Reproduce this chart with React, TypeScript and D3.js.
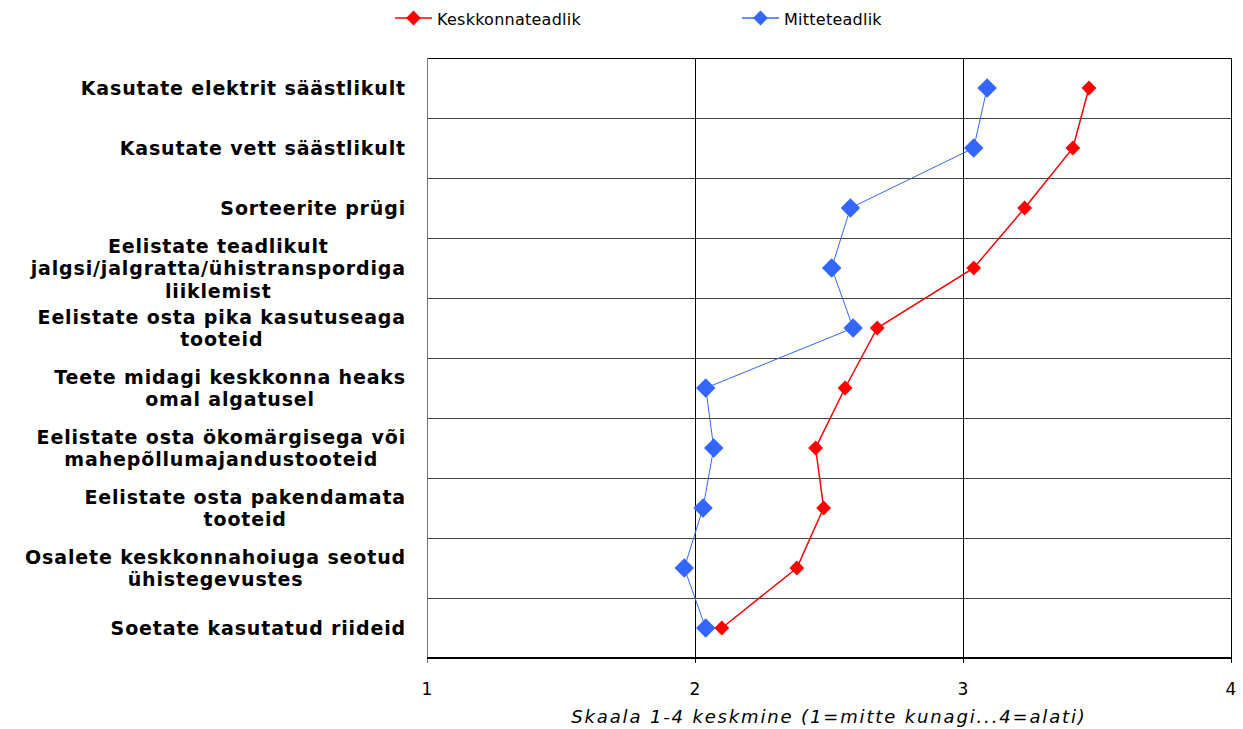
import React, { useEffect, useRef } from "react";
import * as d3 from "d3";

const categories: string[][] = [
  ["Kasutate elektrit säästlikult"],
  ["Kasutate vett säästlikult"],
  ["Sorteerite prügi"],
  ["Eelistate teadlikult", "jalgsi/jalgratta/ühistranspordiga", "liiklemist"],
  ["Eelistate osta pika kasutuseaga", "tooteid"],
  ["Teete midagi keskkonna heaks", "omal algatusel"],
  ["Eelistate osta ökomärgisega või", "mahepõllumajandustooteid"],
  ["Eelistate osta pakendamata", "tooteid"],
  ["Osalete keskkonnahoiuga seotud", "ühistegevustes"],
  ["Soetate kasutatud riideid"],
];
const keskkonnateadlik = [3.47, 3.41, 3.23, 3.04, 2.68, 2.56, 2.45, 2.48, 2.38, 2.1];
const mitteteadlik = [3.09, 3.04, 2.58, 2.51, 2.59, 2.04, 2.07, 2.03, 1.96, 2.04];
const xTicks = [1, 2, 3, 4];
const seriesNames = ["Keskkonnateadlik", "Mitteteadlik"];
const axisTitle = "Skaala 1-4 keskmine (1=mitte kunagi...4=alati)";

const W = 1243, H = 729;
const M = { left: 427, top: 58, right: 1231, bottom: 658 };
const FONT = "'DejaVu Sans', Verdana, sans-serif";

export default function App() {
  const ref = useRef<SVGSVGElement>(null);
  useEffect(() => {
    const svg = d3.select(ref.current);
    svg.selectAll("*").remove();
    const x = d3.scaleLinear().domain([1, 4]).range([M.left, M.right]);
    const y = d3.scaleBand<number>().domain(categories.map((_, i) => i)).range([M.top, M.bottom]);
    const yc = (i: number) => (y(i) as number) + y.bandwidth() / 2;

    const g = svg.append("g");
    for (let i = 0; i <= categories.length; i++) {
      const yy = M.top + i * y.bandwidth();
      g.append("line").attr("x1", M.left).attr("x2", M.right).attr("y1", yy).attr("y2", yy)
        .attr("stroke", i === 0 || i === categories.length ? "#000" : "#444").attr("stroke-width", 1).attr("shape-rendering", "crispEdges");
    }
    xTicks.forEach((t) => {
      g.append("line").attr("x1", x(t)).attr("x2", x(t)).attr("y1", M.top).attr("y2", M.bottom + 5)
        .attr("stroke", t === 1 ? "#777" : "#000").attr("stroke-width", 1).attr("shape-rendering", "crispEdges");
      g.append("text").attr("x", x(t)).attr("y", 695).attr("text-anchor", "middle")
        .attr("font-family", FONT).attr("font-size", 17).attr("fill", "#000").text(String(t));
    });
    g.append("line").attr("x1", M.left).attr("x2", M.right).attr("y1", M.bottom).attr("y2", M.bottom)
      .attr("stroke", "#000").attr("stroke-width", 1.5).attr("shape-rendering", "crispEdges");

    svg.append("text").attr("x", (M.left + M.right) / 2).attr("y", 723).attr("text-anchor", "middle")
      .attr("font-family", FONT).attr("font-size", 18).attr("font-style", "italic").attr("letter-spacing", 1.85)
      .attr("fill", "#000").text(axisTitle);

    const labelRight = 406;
    const lineH = 22.5;
    categories.forEach((lines, i) => {
      const t = svg.append("text").attr("font-family", FONT).attr("font-size", 19).attr("font-weight", "bold")
        .attr("letter-spacing", 0.85).attr("fill", "#000");
      const spans = lines.map((l, k) =>
        t.append("tspan").attr("y", yc(i) + (k - (lines.length - 1) / 2) * lineH + 7).attr("text-anchor", "middle").text(l)
      );
      const widths = spans.map((s) => (s.node() as SVGTSpanElement).getComputedTextLength());
      const maxW = Math.max(...widths);
      spans.forEach((s) => s.attr("x", labelRight - maxW / 2));
    });

    const drawSeries = (vals: number[], color: string, lw: number, ms: number) => {
      const line = d3.line<number>().x((v) => x(v)).y((_, i) => yc(i));
      svg.append("path").attr("d", line(vals)).attr("fill", "none").attr("stroke", color).attr("stroke-width", lw);
      vals.forEach((v, i) => {
        svg.append("path").attr("d", d3.symbol().type(d3.symbolSquare).size(ms)())
          .attr("transform", `translate(${x(v)},${yc(i)}) rotate(45)`).attr("fill", color);
      });
    };
    drawSeries(mitteteadlik, "#3366FF", 1, 190);
    drawSeries(keskkonnateadlik, "#FF0000", 1.5, 110);

    const leg = [
      { name: seriesNames[0], color: "#FF0000", x0: 395, lw: 1.5, ms: 110 },
      { name: seriesNames[1], color: "#3366FF", x0: 742, lw: 1.5, ms: 110 },
    ];
    leg.forEach((l) => {
      svg.append("line").attr("x1", l.x0).attr("x2", l.x0 + 37).attr("y1", 18).attr("y2", 18)
        .attr("stroke", l.color).attr("stroke-width", l.lw);
      svg.append("path").attr("d", d3.symbol().type(d3.symbolSquare).size(l.ms)())
        .attr("transform", `translate(${l.x0 + 18.5},18) rotate(45)`).attr("fill", l.color);
      svg.append("text").attr("x", l.x0 + 42).attr("y", 25).attr("font-family", FONT).attr("font-size", 16)
        .attr("letter-spacing", 0.25).attr("fill", "#000").text(l.name);
    });
  }, []);
  return (
    <svg ref={ref} width={W} height={H} style={{ position: "absolute", left: 0, top: 0, background: "#fff" }} />
  );
}
